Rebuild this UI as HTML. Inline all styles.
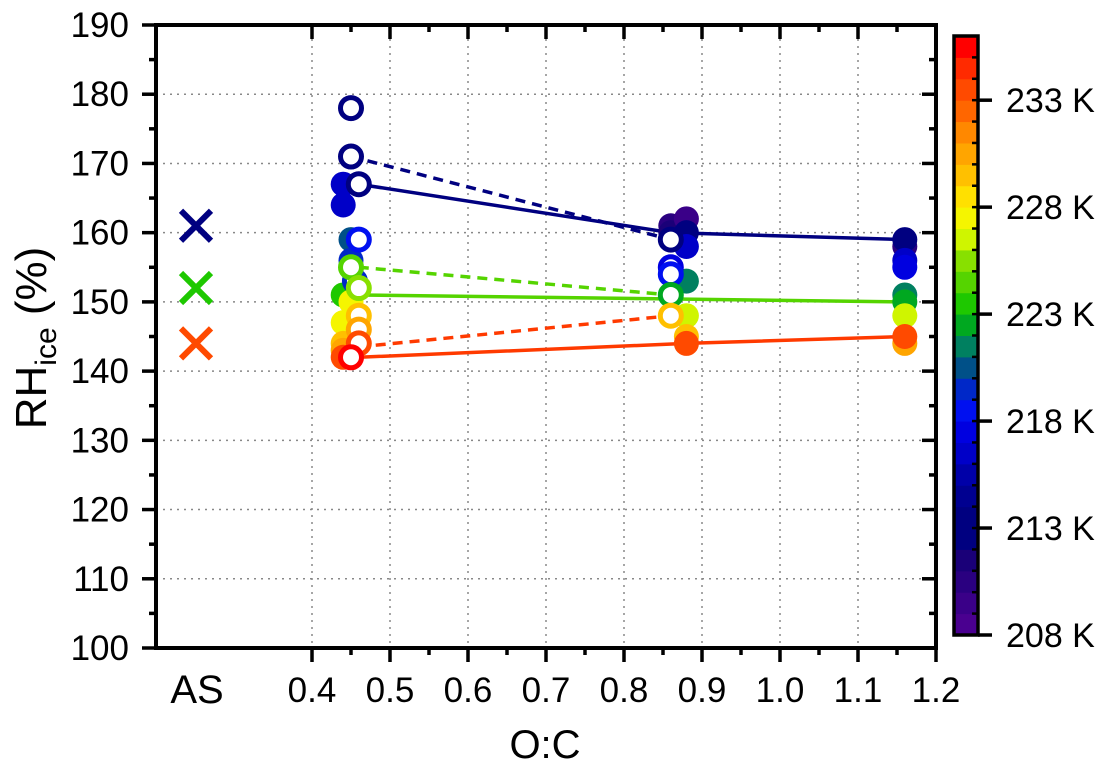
<!DOCTYPE html>
<html><head><meta charset="utf-8"><style>
html,body{margin:0;padding:0;background:#fff;}
svg{display:block;font-family:"Liberation Sans",Arial,sans-serif;}
</style></head><body>
<svg id="chart" width="1102" height="772" viewBox="0 0 1102 772" xmlns="http://www.w3.org/2000/svg">
<g id="grid"></g>
<g id="lines"></g>
<g id="marks"></g>
<g id="axes"></g>
<g id="cbar"></g>
<text transform="translate(46,338) rotate(-90)" text-anchor="middle" style="font-size:44px">RH<tspan style="font-size:30px" dy="10">ice</tspan><tspan dy="-10"> (%)</tspan></text>
<text x="545" y="758" text-anchor="middle" style="font-size:40px">O:C</text>
<text x="197" y="703" text-anchor="middle" style="font-size:40px">AS</text>
</svg>
<script>
const yTicks=[100,110,120,130,140,150,160,170,180,190];
const xTicks=[0.4,0.5,0.6,0.7,0.8,0.9,1.0,1.1,1.2];
const cbTicks=[208,213,218,223,228,233];
const cbColors=["#4a0090","#3a0088","#2a0080","#1a0078","#000080","#000080","#000090","#0000a8","#0000c8","#0000e0","#0010f0","#0028c8","#005088","#008060","#00a820","#1ec800","#55d400","#88e000","#cff500","#f5f500","#ffe000","#ffc000","#ffa500","#ff8800","#ff6600","#ff4a00","#ff2a00","#ff0000"];
// AS reference crosses
const asVals=[161,152,144];
const asColors=["#000080","#1ec800","#ff4a00"];
// filled points: x, y, temperature
const fX=[0.44,0.44,0.45,0.45,0.44,0.45,0.44,0.44,0.44,0.44,0.45, 0.86,0.86,0.88,0.88,0.88,0.88,0.88,0.88,0.88, 1.16,1.16,1.16,1.16,1.16,1.16,1.16,1.16,1.16];
const fY=[167,164,159,156,151,150,147,144,143,142,142, 161,160,162,160,158,153,148,145,144, 158,159,156,155,151,150,148,144,145];
const fT=[216,216,220,219,223,227,227,229,230,233,234, 210,211,209,213,216,221,226,229,233, 210,213,216,217,221,222,226,230,233];
// open points
const oX=[0.45,0.45,0.46,0.46,0.455,0.45,0.46,0.46,0.46,0.46,0.45, 0.86,0.86,0.86,0.86,0.86];
const oY=[178,171,167,159,153,155,152,148,146,144,142, 159,155,154,151,148];
const oT=[213,213,213,218,219,224,225,229,230,233,235, 213,217,218,222,229];
// lines
const lineX=[[0.46,0.86,1.16],[0.45,0.86],[0.46,1.16],[0.46,0.86],[0.46,0.88,1.16],[0.46,0.86]];
const lineY=[[167,160,159],[171,159],[151,150],[155,151],[142,144,145],[143.5,148]];
const lineC=["#000080","#000080","#55d400","#55d400","#ff3a00","#ff3a00"];
const lineDash=[false,true,false,true,false,true];

const X0=156,X1=936,Y0=648,Y1=25;
const xs=v=>312+(v-0.4)*780;
const ys=v=>Y0-(v-100)*(Y0-Y1)/90;
const cbTop=36,cbBot=635,cbL=954,cbR=978;
const cs=t=>cbBot-(t-208)*(cbBot-cbTop)/28;
const col=t=>cbColors[Math.max(0,Math.min(27,Math.floor(t-208)))];
const NS="http://www.w3.org/2000/svg";
function mk(tag,attrs,parent){const e=document.createElementNS(NS,tag);for(const k in attrs)e.setAttribute(k,attrs[k]);parent.appendChild(e);return e;}
const grid=document.getElementById('grid'),axes=document.getElementById('axes'),marks=document.getElementById('marks'),lines=document.getElementById('lines'),cbar=document.getElementById('cbar');

yTicks.forEach(v=>{
  const y=ys(v);
  if(v>100&&v<190){const g=mk('line',{x1:X0,x2:X1,y1:y,y2:y,stroke:'#888','stroke-width':1.5,'stroke-dasharray':'2,5'},grid);
  
  }
  mk('line',{x1:X0-14,x2:X0,y1:y,y2:y,stroke:'#000','stroke-width':3.5},axes);
  mk('line',{x1:X1-14,x2:X1,y1:y,y2:y,stroke:'#000','stroke-width':3.5},axes);
  const t=mk('text',{x:129,y:y+12,'text-anchor':'end',style:'font-size:35px'},axes);t.textContent=v;
  
  
  if(v<190){const m=ys(v+5);
    mk('line',{x1:X0-7,x2:X0,y1:m,y2:m,stroke:'#000','stroke-width':3.5},axes);
    mk('line',{x1:X1-7,x2:X1,y1:m,y2:m,stroke:'#000','stroke-width':3.5},axes);}
});
xTicks.forEach(v=>{
  const x=xs(v);
  if(v>0.35&&v<1.15){const g=mk('line',{x1:x,x2:x,y1:Y1,y2:Y0,stroke:'#888','stroke-width':1.5,'stroke-dasharray':'2,5'},grid);
  
  }
  mk('line',{x1:x,x2:x,y1:Y0,y2:Y0+14,stroke:'#000','stroke-width':3.5},axes);
  mk('line',{x1:x,x2:x,y1:Y1,y2:Y1+14,stroke:'#000','stroke-width':3.5},axes);
  const t=mk('text',{x:x,y:702,'text-anchor':'middle',style:'font-size:35px'},axes);t.textContent=v.toFixed(1);
  
  
  if(v<1.2){const m=xs(v+0.05);
    mk('line',{x1:m,x2:m,y1:Y0,y2:Y0+7,stroke:'#000','stroke-width':3.5},axes);
    mk('line',{x1:m,x2:m,y1:Y1,y2:Y1+7,stroke:'#000','stroke-width':3.5},axes);}
});
mk('rect',{x:X0,y:Y1,width:X1-X0,height:Y0-Y1,fill:'none',stroke:'#000','stroke-width':4},axes);

lineX.forEach((lx,i)=>{
  const pts=lx.map((v,j)=>xs(v)+','+ys(lineY[i][j])).join(' ');
  const p=mk('polyline',{points:pts,fill:'none',stroke:lineC[i],'stroke-width':3.5},lines);
  if(lineDash[i])p.setAttribute('stroke-dasharray','10,7');
  
  
});
fX.forEach((v,i)=>{
  const c=mk('circle',{cx:xs(v),cy:ys(fY[i]),r:12.5,fill:col(fT[i])},marks);
  
  
});
oX.forEach((v,i)=>{
  const c=mk('circle',{cx:xs(v),cy:ys(oY[i]),r:10.5,fill:'#fff',stroke:col(oT[i]),'stroke-width':5},marks);
  
  
});
asVals.forEach((v,i)=>{
  const cx=196,cy=ys(v),d=15;
  const g=mk('g',{},marks);
  
  
  mk('line',{x1:cx-d,y1:cy-d,x2:cx+d,y2:cy+d,stroke:asColors[i],'stroke-width':6},g);
  mk('line',{x1:cx-d,y1:cy+d,x2:cx+d,y2:cy-d,stroke:asColors[i],'stroke-width':6},g);
});
cbColors.forEach((c,k)=>{
  const r=mk('rect',{x:cbL,y:cs(209+k),width:cbR-cbL,height:cs(208)-cs(209)+0.5,fill:c},cbar);
  
  
  if(k>0)mk('line',{x1:cbR-6,x2:cbR,y1:cs(208+k),y2:cs(208+k),stroke:'#000','stroke-width':2.5},cbar);
});
mk('rect',{x:cbL,y:cbTop,width:cbR-cbL,height:cbBot-cbTop,fill:'none',stroke:'#000','stroke-width':3.5},cbar);
cbTicks.forEach(t=>{
  const y=cs(t);
  mk('line',{x1:cbR,x2:cbR+14,y1:y,y2:y,stroke:'#000','stroke-width':3.5},cbar);
  const tx=mk('text',{x:1006,y:y+12,style:'font-size:34px'},cbar);tx.textContent=t+' K';
  
  
});
</script>
</body></html>
